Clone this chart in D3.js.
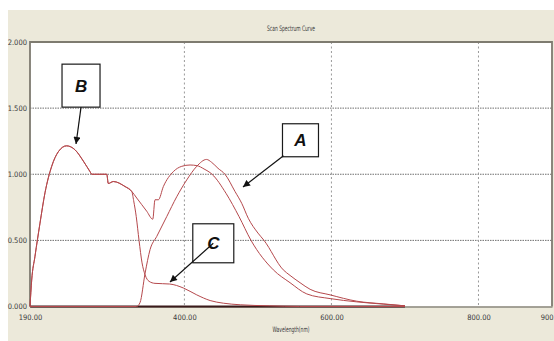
<!DOCTYPE html>
<html>
<head>
<meta charset="utf-8">
<script src="https://cdn.jsdelivr.net/npm/d3@7"></script>
<style>
body { margin: 0; background: #fff; }
text { font-family: "Liberation Sans Narrow", "DejaVu Sans Condensed", sans-serif; fill: #3a3a3a; }
</style>
</head>
<body>
<div id="plot"></div>
<script>
// curve A
var waveA = [190, 335, 339.7, 346.5, 353.3, 362.4, 376, 389.6, 403.2, 416.8, 430.1, 437.1, 445.7, 455.2, 468.8, 478, 486.9, 500.1, 508.3, 534.5, 543.7, 557.3, 571, 598.2, 634.5, 670.3, 700];
var absA  = [0, 0, 0.03, 0.25, 0.43, 0.53, 0.68, 0.83, 0.957, 1.06, 1.112, 1.09, 1.045, 1.0, 0.87, 0.78, 0.667, 0.555, 0.5, 0.277, 0.235, 0.18, 0.13, 0.088, 0.04, 0.02, 0.005];

// curve B (with the dip near 357 nm)
var waveB = [190, 192.3, 196.8, 203.6, 210.4, 219.5, 228.5, 239.7, 251.2, 262.5, 271.6, 274, 294.4, 296.5, 303.3, 319.3, 328.4, 335.2, 342, 348.8, 357, 360, 364.6, 371.4, 385, 396.4, 407.7, 417.1, 426.7, 437.6, 456.6, 474.3, 490.6, 521, 543.7, 566.5, 598.2, 634.5, 670.3, 700];
var absB  = [0, 0.2, 0.38, 0.63, 0.86, 1.06, 1.17, 1.215, 1.185, 1.1, 1.02, 1.0, 1.0, 0.93, 0.945, 0.907, 0.87, 0.82, 0.77, 0.72, 0.66, 0.807, 0.807, 0.907, 1.02, 1.06, 1.07, 1.065, 1.04, 1.0, 0.856, 0.68, 0.5, 0.277, 0.18, 0.095, 0.06, 0.035, 0.018, 0.005];

// curve C (same start as B, steep drop near 338 nm)
var waveC = [190, 192.3, 196.8, 203.6, 210.4, 219.5, 228.5, 239.7, 251.2, 262.5, 271.6, 274, 294.4, 296.5, 303.3, 319.3, 328.4, 331, 334.5, 338.3, 342.4, 346.5, 352, 360, 380, 398.6, 416.8, 435, 453, 476, 516, 557, 700];
var absC  = [0, 0.2, 0.38, 0.63, 0.86, 1.06, 1.17, 1.215, 1.185, 1.1, 1.02, 1.0, 1.0, 0.93, 0.945, 0.907, 0.87, 0.8, 0.68, 0.5, 0.33, 0.24, 0.19, 0.175, 0.17, 0.14, 0.088, 0.045, 0.025, 0.013, 0.005, 0, 0];

var xTicks = [190, 400, 600, 800, 900];
var xGrid = [400, 600, 800];
var yTicks = [0, 0.5, 1, 1.5, 2];
var yGrid = [0.5, 1, 1.5];

// labelled callouts: letter, box centre and arrow tip (in data units)
var labels = ["A", "B", "C"];
var labelWave = [557.9, 259.4, 439.3];
var labelAbs  = [1.257, 1.67, 0.478];
var tipWave   = [479.7, 252.6, 380.4];
var tipAbs    = [0.904, 1.229, 0.185];

var width = 554, height = 341;
var plot = {left: 30, right: 552, top: 42, bottom: 306.5};

let svg = d3.select("#plot")
    .append("svg")
    .attr("width", width)
    .attr("height", height);

// window background
svg.append("rect")
    .attr("x", 8).attr("y", 10)
    .attr("width", width - 8).attr("height", height - 10)
    .attr("fill", "#ece9da");

svg.append("rect")
    .attr("x", plot.left).attr("y", plot.top)
    .attr("width", plot.right - plot.left).attr("height", plot.bottom - plot.top)
    .attr("fill", "#fff");

let x = d3.scaleLinear().domain([190, 900]).range([plot.left, plot.right]);
let y = d3.scaleLinear().domain([0, 2]).range([plot.bottom, plot.top]);

// grid
svg.append("g").selectAll("line").data(yGrid).enter()
    .append("line")
    .attr("x1", plot.left).attr("x2", plot.right)
    .attr("y1", d => y(d)).attr("y2", d => y(d))
    .attr("stroke", "#6f6f6f")
    .attr("stroke-width", 1)
    .attr("stroke-dasharray", "1.5,1");

svg.append("g").selectAll("line").data(xGrid).enter()
    .append("line")
    .attr("x1", d => x(d)).attr("x2", d => x(d))
    .attr("y1", plot.top).attr("y2", plot.bottom)
    .attr("stroke", "#9a9a9a")
    .attr("stroke-width", 1)
    .attr("stroke-dasharray", "2,2.5");

// frame
svg.append("path")
    .attr("d", `M${plot.left},${plot.bottom}V${plot.top}H${plot.right}V${plot.bottom}`)
    .attr("fill", "none")
    .attr("stroke", "#7e7b70")
    .attr("stroke-width", 1.8);

// axes
svg.append("g")
    .attr("transform", `translate(0,${plot.bottom})`)
    .call(d3.axisBottom(x).tickValues(xTicks).tickFormat(d3.format(".2f")).tickSize(0).tickPadding(8))
    .call(g => g.select(".domain").attr("stroke", "#8a877c").attr("stroke-width", 1.4))
    .selectAll("text")
    .style("font-size", "7.5px");

svg.append("g")
    .attr("transform", `translate(${plot.left},0)`)
    .call(d3.axisLeft(y).tickValues(yTicks).tickFormat(d3.format(".3f")).tickSize(0).tickPadding(3))
    .call(g => g.select(".domain").remove())
    .selectAll("text")
    .style("font-size", "7.5px");

svg.selectAll(".tick text").attr("fill", "#3a3a3a");

// titles
svg.append("text")
    .attr("x", 291).attr("y", 31)
    .attr("text-anchor", "middle")
    .attr("textLength", 48)
    .attr("lengthAdjust", "spacingAndGlyphs")
    .style("font-size", "7.5px")
    .text("Scan Spectrum Curve");

svg.append("text")
    .attr("x", 291).attr("y", 332)
    .attr("text-anchor", "middle")
    .attr("textLength", 37)
    .attr("lengthAdjust", "spacingAndGlyphs")
    .style("font-size", "7.5px")
    .text("Wavelength(nm)");

// curves
var series = [
    waveA.map((w, i) => [w, absA[i]]),
    waveB.map((w, i) => [w, absB[i]]),
    waveC.map((w, i) => [w, absC[i]])
];

let line = d3.line()
    .x(d => x(d[0]))
    .y(d => y(d[1]))
    .curve(d3.curveMonotoneX);

// scan baseline where all curves sit on zero
svg.append("line")
    .attr("x1", x(d3.min(waveA))).attr("x2", x(d3.max(waveA)))
    .attr("y1", y(0)).attr("y2", y(0))
    .attr("stroke", "#3b1a1a")
    .attr("stroke-width", 2);

svg.append("g").selectAll("path").data(series).enter()
    .append("path")
    .attr("d", line)
    .attr("fill", "none")
    .attr("stroke", "#b5484c")
    .attr("stroke-width", 1);

// callouts
svg.append("defs").append("marker")
    .attr("id", "head")
    .attr("viewBox", "0 0 10 10")
    .attr("refX", 10).attr("refY", 5)
    .attr("markerWidth", 8).attr("markerHeight", 7)
    .attr("markerUnits", "userSpaceOnUse")
    .attr("orient", "auto")
    .append("path")
    .attr("d", "M0,0L10,5L0,10Z")
    .attr("fill", "#111");

var boxW = [36, 38, 41], boxH = [33, 43, 39];

labels.forEach(function(l, i) {
    var cx = x(labelWave[i]), cy = y(labelAbs[i]);
    svg.append("rect")
        .attr("x", cx - boxW[i] / 2).attr("y", cy - boxH[i] / 2)
        .attr("width", boxW[i]).attr("height", boxH[i])
        .attr("fill", "#fff")
        .attr("stroke", "#1a1a1a")
        .attr("stroke-width", 1.2);
    svg.append("text")
        .attr("x", cx).attr("y", cy + 6)
        .attr("text-anchor", "middle")
        .style("font-family", "'Liberation Sans', Arial, sans-serif")
        .style("font-size", "17px")
        .style("font-weight", "bold")
        .style("font-style", "italic")
        .style("fill", "#111")
        .text(l);
});

labels.forEach(function(l, i) {
    var cx = x(labelWave[i]), cy = y(labelAbs[i]);
    // A leaves from the lower-left corner, B from the bottom edge, C from the letter
    var sx = l === "A" ? cx - boxW[i] / 2 + 1 : cx;
    var sy = l === "C" ? cy : cy + boxH[i] / 2 - (l === "A" ? 1 : 0);
    svg.append("line")
        .attr("x1", sx).attr("y1", sy)
        .attr("x2", x(tipWave[i])).attr("y2", y(tipAbs[i]))
        .attr("stroke", "#111")
        .attr("stroke-width", 1.2)
        .attr("marker-end", "url(#head)");
});
</script>
</body>
</html>
